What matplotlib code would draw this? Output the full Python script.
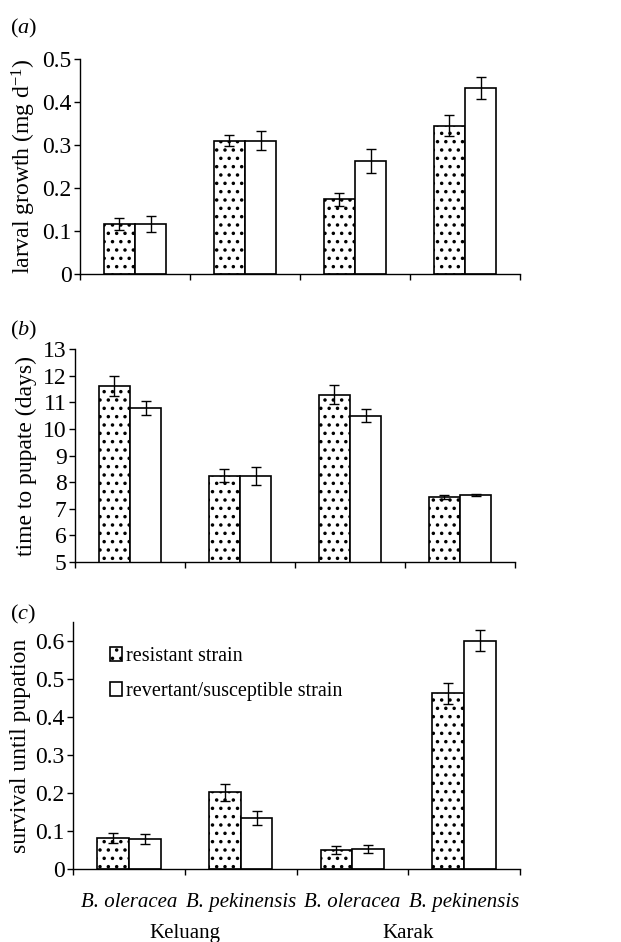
import numpy as np
import matplotlib
matplotlib.use('Agg')
import matplotlib.pyplot as plt

plt.rcParams['font.family'] = ['Liberation Serif', 'DejaVu Serif']
plt.rcParams['mathtext.fontset'] = 'custom'
plt.rcParams['mathtext.rm'] = 'Liberation Serif'
plt.rcParams['mathtext.it'] = 'Liberation Serif:italic'
plt.rcParams['hatch.linewidth'] = 1.3

hosts = ['B. oleracea', 'B. pekinensis', 'B. oleracea', 'B. pekinensis']
sites = ['Keluang', 'Karak']

# (a) larval growth
growth_res = [0.117, 0.310, 0.174, 0.345]
growth_res_err = [0.014, 0.013, 0.015, 0.025]
growth_sus = [0.116, 0.310, 0.263, 0.433]
growth_sus_err = [0.018, 0.022, 0.027, 0.025]

# (b) time to pupate
pupate_res = [11.60, 8.24, 11.29, 7.43]
pupate_res_err = [0.37, 0.24, 0.37, 0.08]
pupate_sus = [10.78, 8.22, 10.50, 7.52]
pupate_sus_err = [0.25, 0.34, 0.24, 0.03]

# (c) survival until pupation
surv_res = [0.082, 0.202, 0.050, 0.462]
surv_res_err = [0.013, 0.022, 0.011, 0.028]
surv_sus = [0.078, 0.135, 0.053, 0.601]
surv_sus_err = [0.013, 0.018, 0.010, 0.027]

W, H = 621, 942
fig = plt.figure(figsize=(W / 100, H / 100), dpi=100)

def make_ax(left, right, top, bottom):
    return fig.add_axes([left / W, 1 - bottom / H, (right - left) / W, (bottom - top) / H])

ax_a = make_ax(80, 520, 59, 274)
ax_b = make_ax(75, 515, 349, 562)
ax_c = make_ax(73, 520, 622, 869)

x = np.arange(len(hosts))
w = 0.285
FS = 17

def draw(ax, res, res_err, sus, sus_err):
    ax.bar(x - w / 2, res, w, facecolor='white', edgecolor='black',
           hatch='..', linewidth=1.2, label='resistant strain')
    ax.bar(x + w / 2, sus, w, facecolor='white', edgecolor='black',
           linewidth=1.2, label='revertant/susceptible strain')
    ax.errorbar(x - w / 2, res, yerr=res_err, fmt='none', ecolor='black',
                elinewidth=1.0, capsize=3.5, capthick=1.0)
    ax.errorbar(x + w / 2, sus, yerr=sus_err, fmt='none', ecolor='black',
                elinewidth=1.0, capsize=3.5, capthick=1.0)
    ax.set_xlim(-0.5, 3.5)
    ax.set_xticks(np.arange(-0.5, 4.0, 1.0))
    ax.set_xticklabels([])
    for s in ['top', 'right']:
        ax.spines[s].set_visible(False)
    ax.spines['left'].set_linewidth(1.0)
    ax.spines['bottom'].set_linewidth(1.0)
    ax.tick_params(axis='both', direction='out', length=4, width=1.0,
                   labelsize=FS, pad=2)

draw(ax_a, growth_res, growth_res_err, growth_sus, growth_sus_err)
ax_a.set_ylim(0, 0.5)
ax_a.set_yticks([0, 0.1, 0.2, 0.3, 0.4, 0.5])
ax_a.set_yticklabels(['0', '0.1', '0.2', '0.3', '0.4', '0.5'])
ax_a.set_ylabel('larval growth (mg d$^{-1}$)', fontsize=FS, labelpad=3)

draw(ax_b, pupate_res, pupate_res_err, pupate_sus, pupate_sus_err)
ax_b.set_ylim(5, 13)
ax_b.set_yticks(range(5, 14))
ax_b.set_ylabel('time to pupate (days)', fontsize=FS, labelpad=4)

draw(ax_c, surv_res, surv_res_err, surv_sus, surv_sus_err)
ax_c.set_ylim(0, 0.65)
ax_c.set_yticks([0, 0.1, 0.2, 0.3, 0.4, 0.5, 0.6])
ax_c.set_yticklabels(['0', '0.1', '0.2', '0.3', '0.4', '0.5', '0.6'])
ax_c.set_ylabel('survival until pupation', fontsize=FS, labelpad=3)
ax_c.legend(loc='upper left', bbox_to_anchor=(0.065, 0.93), frameon=False,
            fontsize=14.5, handlelength=0.6, handleheight=0.7, handletextpad=0.2,
            labelspacing=0.75, borderaxespad=0)

xt = ax_c.get_xaxis_transform()
for i, h in enumerate(hosts):
    ax_c.text(i, -0.134, h, ha='center', va='center', fontsize=15,
              style='italic', transform=xt)
for j, s in enumerate(sites):
    ax_c.text(0.5 + 2 * j, -0.262, s, ha='center', va='center', fontsize=15,
              transform=xt)

fig.text(10 / W, 1 - 28 / H, '($a$)', fontsize=16, va='center')
fig.text(10 / W, 1 - 330 / H, '($b$)', fontsize=16, va='center')
fig.text(10 / W, 1 - 614 / H, '($c$)', fontsize=16, va='center')

fig.savefig('out.png', dpi=100)
